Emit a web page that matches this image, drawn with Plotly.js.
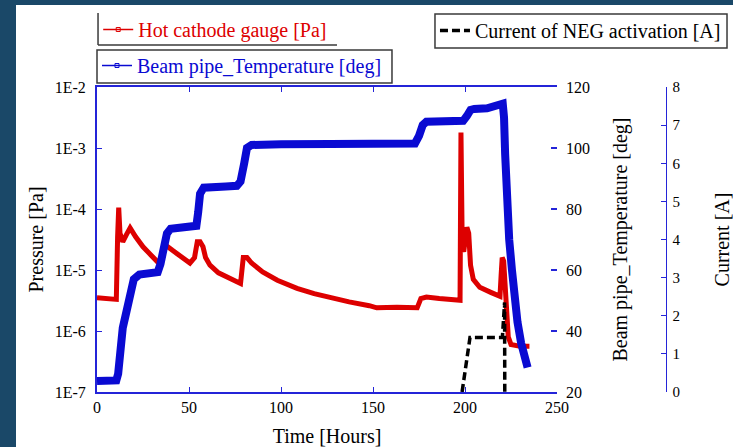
<!DOCTYPE html>
<html><head><meta charset="utf-8">
<script src="https://cdn.plot.ly/plotly-3.0.1.min.js"></script>
<style>
html,body{margin:0;padding:0;background:#1a4868;width:733px;height:447px;overflow:hidden}
#chart{position:absolute;left:16px;top:5px;width:717px;height:442px;background:#fff}
</style></head><body><div id="chart"></div>
<script>
// Hot cathode gauge pressure [Pa]
const timeP = [0, 5, 10.5, 11.2, 11.8, 12.5, 13.3, 14, 16, 18, 21, 25, 29, 33, 35, 37, 41, 46, 50.5, 53, 54.5, 56, 57.6, 59, 61.4, 66, 71, 76, 78, 79.5, 81.5, 84, 90, 98, 108.7, 118, 126.6, 137, 148, 152, 163, 174, 176, 179, 186, 197.3, 197.8, 198.5, 199.3, 201, 202, 203, 204.5, 208, 214, 219, 219.6, 220.2, 221, 221.8, 222.5, 223.5, 225, 230, 235];
const pressure = [3.5e-6, 3.4e-6, 3.3e-6, 3.5e-5, 1.05e-4, 4e-5, 3.3e-5, 2.9e-5, 3.8e-5, 4.9e-5, 3.5e-5, 2.4e-5, 1.8e-5, 1.35e-5, 1.5e-5, 2.6e-5, 2.1e-5, 1.6e-5, 1.3e-5, 1.6e-5, 2.9e-5, 2.9e-5, 2.4e-5, 1.6e-5, 1.2e-5, 9e-6, 7.5e-6, 6.3e-6, 6e-6, 1.6e-5, 1.6e-5, 1.3e-5, 9.3e-6, 6.8e-6, 5e-6, 4.1e-6, 3.5e-6, 3.0e-6, 2.6e-6, 2.4e-6, 2.45e-6, 2.4e-6, 3.4e-6, 3.6e-6, 3.4e-6, 3.2e-6, 1.8e-3, 2.3e-5, 2.0e-5, 5.0e-5, 4.0e-5, 1.2e-5, 7e-6, 5.2e-6, 4.3e-6, 3.7e-6, 8e-6, 1.6e-5, 1.4e-5, 5e-6, 1.5e-6, 8e-7, 6e-7, 5.6e-7, 5.6e-7];

// Beam pipe temperature [deg]
const timeT = [0, 5, 10.5, 11.5, 12.3, 13, 14, 15.5, 17, 18.5, 20, 23, 28, 33, 34.5, 36, 38, 40, 45, 50, 54, 55, 56, 58, 62, 70, 76, 78, 80, 81.5, 84, 90, 100, 126.6, 150, 172.8, 175, 177, 179, 190, 199, 201, 203, 205, 212, 220.5, 221.2, 221.8, 222.3, 223, 224, 225.5, 227, 228.5, 230.5, 232.5, 234];
const temperature = [23.6, 23.6, 23.8, 26, 32, 37, 41, 45, 50, 55, 57, 58.5, 59, 59.3, 62, 67, 72, 73.5, 74, 74.3, 74.5, 79, 85, 87, 87.3, 87.4, 87.6, 89, 95, 100, 101, 101.2, 101.2, 101.3, 101.4, 101.5, 104, 107.5, 108.6, 108.7, 108.9, 110.5, 112.5, 112.8, 113, 114.5, 110, 98, 88, 78, 70, 60, 50, 43, 36, 31, 28];

// Current of NEG activation [A]
const timeI = [198.4, 202.7, 220.3, 221.5, 221.6];
const current = [0, 1.43, 1.43, 2.35, 0];

const xTicks = [0, 50, 100, 150, 200, 250];
const pTickVals = [1e-7, 1e-6, 1e-5, 1e-4, 1e-3, 1e-2];
const pTickText = ['1E-7', '1E-6', '1E-5', '1E-4', '1E-3', '1E-2'];
const tTicks = [20, 40, 60, 80, 100, 120];
const iTicks = [0, 1, 2, 3, 4, 5, 6, 7, 8];

const FONT = 'Liberation Serif, "Times New Roman", serif';
const AX = '#2424d8';
const RED = '#dd0000';
const BLUE = '#0a0ad2';
const BOX = '#3a3a3a';

const traces = [
  {x: timeP, y: pressure, yaxis: 'y', mode: 'lines', showlegend: false,
   line: {color: RED, width: 5}},
  {x: timeT, y: temperature, yaxis: 'y2', mode: 'lines', showlegend: false,
   line: {color: BLUE, width: 8}},
  {x: timeI, y: current, yaxis: 'y3', mode: 'lines', showlegend: false,
   line: {color: '#000', width: 3.5, dash: '8px,4px'}},
  // legend entries
  {x: [null], y: [null], yaxis: 'y', mode: 'lines+markers', name: 'Hot cathode gauge [Pa]',
   legend: 'legend', line: {color: RED, width: 1.5}, marker: {symbol: 'square-open', size: 4, color: RED}},
  {x: [null], y: [null], yaxis: 'y2', mode: 'lines+markers', name: 'Beam pipe_Temperature [deg]',
   legend: 'legend2', line: {color: BLUE, width: 1.5}, marker: {symbol: 'square-open', size: 4, color: BLUE}},
  {x: [null], y: [null], yaxis: 'y3', mode: 'lines', name: 'Current of NEG activation [A]',
   legend: 'legend3', line: {color: '#000', width: 3.5, dash: '8px,4px'}}
];

const layout = {
  width: 717, height: 442,
  margin: {l: 81, r: 33, t: 82, b: 55, autoexpand: false},
  paper_bgcolor: '#ffffff', plot_bgcolor: 'rgba(0,0,0,0)',
  font: {family: FONT, size: 16, color: '#000'},
  showlegend: true,
  xaxis: {domain: [0, 0.7629], range: [0, 250], tickvals: xTicks, ticks: 'inside', ticklen: 5,
    tickcolor: AX, showline: true, linecolor: AX, linewidth: 2, mirror: 'ticks',
    showgrid: false, zeroline: false, tickfont: {size: 16}, automargin: false,
    title: {text: 'Time [Hours]', font: {size: 20}, standoff: 14}},
  yaxis: {type: 'log', range: [-7, -2], tickvals: pTickVals, ticktext: pTickText,
    ticks: 'inside', ticklen: 5, tickcolor: AX, showline: true, linecolor: AX, linewidth: 2,
    showgrid: false, zeroline: false, ticklabelstandoff: 6, tickfont: {size: 16}, automargin: false,
    title: {text: 'Pressure [Pa]', font: {size: 20}, standoff: 6}},
  yaxis2: {overlaying: 'y', side: 'right', anchor: 'x', range: [20, 120], tickvals: tTicks,
    ticks: 'inside', ticklen: 6, tickwidth: 2, tickcolor: AX, showline: false, showgrid: false, zeroline: false,
    ticklabelstandoff: 8, tickfont: {size: 16}, automargin: false,
    title: {text: 'Beam pipe_Temperature [deg]', font: {size: 20}, standoff: 23}},
  yaxis3: {overlaying: 'y', side: 'right', anchor: 'free', position: 0.9436, range: [0, 8], tickvals: iTicks,
    ticks: 'inside', ticklen: 5, tickcolor: AX, showline: true, linecolor: AX, linewidth: 1.5,
    showgrid: false, zeroline: false, ticklabelstandoff: 2, tickfont: {size: 15}, automargin: false,
    title: {text: 'Current [A]', font: {size: 20}, standoff: 36}},
  legend: {x: 0.002, y: 1.2525, xanchor: 'left', yanchor: 'top', bgcolor: 'rgba(0,0,0,0)',
    borderwidth: 0, font: {size: 20, color: RED}},
  legend2: {x: 0.0, y: 1.1344, xanchor: 'left', yanchor: 'top', bgcolor: 'rgba(0,0,0,0)',
    borderwidth: 0, font: {size: 20, color: BLUE}},
  legend3: {x: 0.5605, y: 1.2492, xanchor: 'left', yanchor: 'top', bgcolor: 'rgba(0,0,0,0)',
    borderwidth: 0, font: {size: 20, color: '#000'}},
  shapes: [
    // partial frame of the first legend
    {type: 'line', xref: 'paper', yref: 'paper', x0: 0.0017, x1: 0.0017, y0: 1.2426, y1: 1.1377,
     line: {color: BOX, width: 1.5}},
    {type: 'line', xref: 'paper', yref: 'paper', x0: 0.0017, x1: 0.398, y0: 1.1377, y1: 1.1377,
     line: {color: BOX, width: 1.5}},
    // frame of the second legend
    {type: 'rect', xref: 'paper', yref: 'paper', x0: 0.0, x1: 0.4892, y0: 1.1213, y1: 1.0131,
     line: {color: BOX, width: 1.5}},
    // frame of the third legend
    {type: 'rect', xref: 'paper', yref: 'paper', x0: 0.5605, x1: 1.0448, y0: 1.2393, y1: 1.1279,
     line: {color: BOX, width: 1.5}}
  ]
};

Plotly.newPlot('chart', traces, layout, {displayModeBar: false, staticPlot: true});
</script></body></html>
